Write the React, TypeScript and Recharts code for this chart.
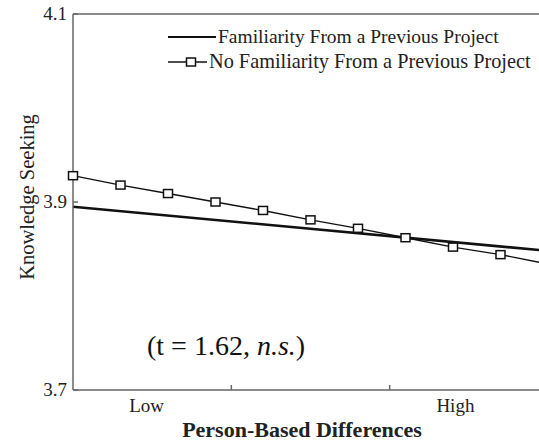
import { LineChart, Line, XAxis, YAxis } from "recharts";

// x runs from Low (0) to High (1) person-based differences
const STEPS = [0, 0.1, 0.2, 0.3, 0.4, 0.5, 0.6, 0.7, 0.8, 0.9, 1.0];
const NO_FAMILIARITY = [3.928, 3.918, 3.909, 3.9, 3.891, 3.881, 3.872, 3.862, 3.852, 3.844, 3.834];
const FAMILIARITY_X = [0, 1];
const FAMILIARITY = [3.895, 3.848];

const Y_TICKS = [3.7, 3.9, 4.1];
const X_LABEL_POS = [0.155, 0.805];
const X_LABELS = ["Low", "High"];
const X_MARKS = [1 / 3, 2 / 3];

const SERIES_NAMES = ["Familiarity From a Previous Project", "No Familiarity From a Previous Project"];

const W = 560;
const H = 445;
const PLOT_LEFT = 73;
const PLOT_TOP = 14;
const PLOT_BOTTOM = 390;
const AXIS = "#666";
const FONT = "'Liberation Serif', 'Times New Roman', serif";

const noFamData = STEPS.map((x, i) => ({ x, v: NO_FAMILIARITY[i] }));
const famData = FAMILIARITY_X.map((x, i) => ({ x, v: FAMILIARITY[i] }));

const Square = (props: any) => {
  const { cx, cy } = props;
  if (cx == null || cy == null) return null;
  return <rect x={cx - 4.5} y={cy - 4} width={9} height={8} fill="#fff" stroke="#111" strokeWidth={1.5} />;
};

const YTick = (props: any) => {
  const { y, payload } = props;
  return (
    <g>
      <text x={PLOT_LEFT - 6} y={y} dy={6} textAnchor="end" fontFamily={FONT} fontSize={19} fill="#222">
        {payload.value.toFixed(1)}
      </text>
      <line x1={PLOT_LEFT} x2={PLOT_LEFT + 5} y1={y} y2={y} stroke={AXIS} strokeWidth={1.5} />
    </g>
  );
};

const XTick = (props: any) => {
  const { x, payload } = props;
  const idx = X_LABEL_POS.findIndex(p => Math.abs(p - payload.value) < 1e-6);
  if (idx >= 0) {
    return (
      <text x={x} y={412} textAnchor="middle" fontFamily={FONT} fontSize={19} fill="#222">
        {X_LABELS[idx]}
      </text>
    );
  }
  return <line x1={x} x2={x} y1={PLOT_BOTTOM} y2={PLOT_BOTTOM - 5} stroke={AXIS} strokeWidth={1.5} />;
};

const TopTick = (props: any) => {
  const { x } = props;
  return <line x1={x} x2={x} y1={PLOT_TOP} y2={PLOT_TOP + 5} stroke={AXIS} strokeWidth={1.5} />;
};

const App = () => {
  return (
    <div style={{ position: "absolute", left: 0, top: 0, width: 539, height: 445, overflow: "hidden", background: "#fff" }}>
      <LineChart width={W} height={H} margin={{ top: PLOT_TOP - 1, right: 12, bottom: 25, left: 0 }}>
        <XAxis
          type="number"
          dataKey="x"
          domain={[0, 1]}
          ticks={[...X_LABEL_POS, ...X_MARKS].sort((a, b) => a - b)}
          interval={0}
          height={30}
          tick={<XTick />}
          tickLine={false}
          axisLine={{ stroke: AXIS, strokeWidth: 1.5 }}
        />
        <XAxis
          xAxisId="top"
          orientation="top"
          type="number"
          dataKey="x"
          domain={[0, 1]}
          ticks={X_MARKS}
          interval={0}
          height={1}
          tick={<TopTick />}
          tickLine={false}
          axisLine={{ stroke: AXIS, strokeWidth: 1.5 }}
        />
        <YAxis
          type="number"
          domain={[3.7, 4.1]}
          ticks={Y_TICKS}
          interval={0}
          width={PLOT_LEFT}
          allowDataOverflow
          tick={<YTick />}
          tickLine={false}
          axisLine={{ stroke: AXIS, strokeWidth: 1.5 }}
        />
        <Line
          data={famData}
          dataKey="v"
          type="linear"
          stroke="#111"
          strokeWidth={2.6}
          dot={false}
          activeDot={false}
          isAnimationActive={false}
        />
        <Line
          data={noFamData}
          dataKey="v"
          type="linear"
          stroke="#111"
          strokeWidth={1.4}
          dot={<Square />}
          activeDot={false}
          isAnimationActive={false}
        />
      </LineChart>

      <svg width={539} height={445} style={{ position: "absolute", left: 0, top: 0, pointerEvents: "none" }}>
        {/* legend */}
        <line x1={168} x2={216} y1={37} y2={37} stroke="#111" strokeWidth={2} />
        <text x={218} y={43} fontFamily={FONT} fontSize={19.5} fill="#222">{SERIES_NAMES[0]}</text>
        <line x1={168} x2={207} y1={62} y2={62} stroke="#111" strokeWidth={1.4} />
        <rect x={186.5} y={58} width={9} height={8} fill="#fff" stroke="#111" strokeWidth={1.5} />
        <text x={209} y={68} fontFamily={FONT} fontSize={20.3} fill="#222">{SERIES_NAMES[1]}</text>

        {/* axis titles */}
        <text transform="translate(34,197) rotate(-90)" textAnchor="middle" fontFamily={FONT} fontSize={20.5} fill="#222">
          Knowledge Seeking
        </text>
        <text x={302} y={437} textAnchor="middle" fontFamily={FONT} fontSize={22} fontWeight="bold" fill="#222">
          Person-Based Differences
        </text>

        {/* annotation */}
        <text x={147} y={355} fontFamily={FONT} fontSize={28} fill="#111">
          (t = 1.62, <tspan fontStyle="italic">n.s.</tspan>)
        </text>
      </svg>
    </div>
  );
};

export default App;
